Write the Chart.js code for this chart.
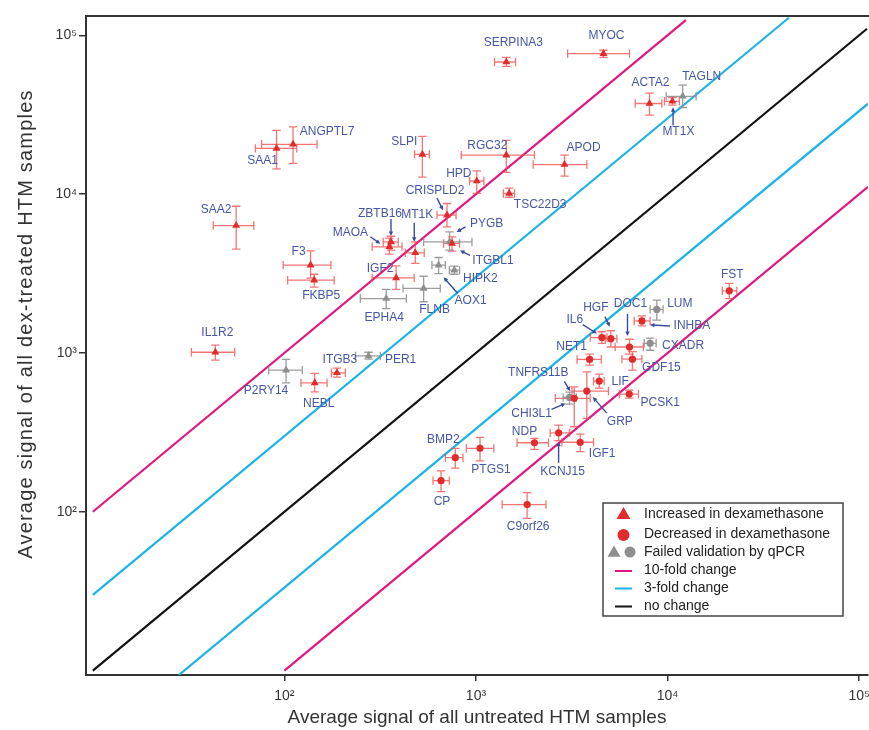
<!DOCTYPE html>
<html><head><meta charset="utf-8">
<script src="https://cdn.jsdelivr.net/npm/chart.js@4.4.1/dist/chart.umd.min.js"></script>
<style>html,body{margin:0;padding:0;background:#fff;}canvas{display:block;}</style>
</head><body>
<canvas id="c" width="869" height="730"></canvas>
<script>
// ---------- DATA ----------
const genes = ['SERPINA3','MYOC','ACTA2','MT1X','TAGLN','APOD','RGC32','SLPI','HPD','TSC22D3',
  'CRISPLD2','ANGPTL7','SAA1','SAA2','F3','FKBP5','MAOA','ZBTB16','MT1K','IGF2',
  'ITGBL1','PYGB','AOX1','HIPK2','FLNB','EPHA4','IL1R2','P2RY14','PER1','ITGB3','NEBL',
  'FST','LUM','INHBA','CXADR','IL6','HGF','DOC1','GDF15','NET1','LIF','GRP','TNFRS11B',
  'CHI3L1','NDP','KCNJ15','IGF1','PTGS1','BMP2','CP','C9orf26','PCSK1'];
const groups = ['up','up','up','up','failUp','up','up','up','up','up',
  'up','up','up','up','up','up','up','up','up','up',
  'up','failUp','failUp','failUp','failUp','failUp','up','failUp','failUp','up','up',
  'down','failDown','down','failDown','down','down','down','down','down','down','down','down',
  'failDown','down','down','down','down','down','down','down','down'];
// untreated (x) mean and error range
const xMean = [1440,4630,8050,10600,12000,2900,1440,525,1010,1490,
  706,111,91,56,137,143,353,360,482,383,
  750,728,638,771,533,340,43.6,102,275,188,144,
  21000,8790,7350,8110,4540,5060,6330,6560,3920,4400,3790,3260,
  3080,2020,2700,3500,1050,780,657,1850,6310];
const xLow = [1250,3010,6780,9640,9840,1990,838,478,926,1390,
  626,76,70.6,42.5,98.5,104,287,328,428,287,
  678,533,589,726,416,249,32.7,82.8,235,176,122,
  19300,8110,6700,7550,3950,4730,5330,5780,3370,4110,3170,2594,
  2850,1640,2440,2810,890,692,597,1370,5610];
const xHigh = [1610,6330,9340,11530,14100,3790,2020,571,1100,1590,
  787,148,116,69.2,175,182,411,393,537,476,
  821,953,692,821,651,433,55,124,317,208,167,
  23000,9480,8110,8720,4830,5440,7480,7350,4510,4670,4920,3946,
  3340,2390,3080,4110,1240,855,726,2320,7050];
// dex-treated (y) mean and error range
const yMean = [67900,76700,37200,38400,41300,15350,17600,17800,12100,10100,
  7370,20600,19400,6340,3570,2870,4660,5000,4270,2970,
  4890,5000,3570,3320,2550,2200,1010,780,959,750,648,
  2460,1880,1590,1150,1250,1230,1090,914,910,665,575,518,
  525,272,314,274,251,219,157,111,551];
const yLow = [63800,72700,31400,36300,35100,13000,13700,12800,10100,9560,
  6220,15600,14400,4500,2960,2600,4190,4440,3660,2510,
  4370,4440,3160,3130,2100,1900,901,648,914,704,569,
  2200,1610,1480,1040,1150,1090,982,780,838,601,387,343,
  476,247,280,239,209,188,134,90.8,520];
const yHigh = [72700,80500,43300,40600,48500,17600,21800,23100,14000,10900,
  8730,26500,25200,8390,4390,3130,5280,5430,5000,3530,
  5380,5780,3990,3520,3040,2510,1120,910,1010,802,743,
  2740,2150,1710,1240,1360,1380,1220,1020,982,736,760,612,
  566,290,351,308,294,251,181,132,583];
const tickValues = [100, 1000, 10000, 100000];
const tickLabels = ['10\u00B2', '10\u00B3', '10\u2074', '10\u2075'];
// reference lines y = factor * x
const foldNames = ['10-fold change', '3-fold change', 'no change', '3-fold change', '10-fold change'];
const foldFactors = [10, 3, 1, 1/3, 1/10];
const lineStartX = [10, 10, 10, 28.1, 100];
const lineEndX = [12460, 43000, 110000, 111300, 111300];
const legendTexts = ['Increased in dexamethasone', 'Decreased in dexamethasone', 'Failed validation by qPCR',
  '10-fold change', '3-fold change', 'no change'];

// ---------- LAYOUT / STYLE ----------
const FONT = '"Liberation Sans", Arial, Helvetica, sans-serif';
const RED = '#e22b2b', GRAY = '#8e8e8e';
const ERR_RED = 'rgba(238,72,72,0.75)', ERR_GRAY = 'rgba(140,140,140,0.85)';
const LINE_COLORS = ['#e2167e', '#1cb3e6', '#111111', '#1cb3e6', '#e2167e'];
const LABEL_COLOR = '#4656a6';
// label offsets from point pixel: [dx, dy, arrowFromDx, arrowFromDy, arrowToDx, arrowToDy]
const labelLayout = {
  SERPINA3:[7,-19], MYOC:[3,-18], ACTA2:[1,-21], TAGLN:[19,-20], MT1X:[6,30,0.7,24,0.7,6],
  APOD:[19,-17], RGC32:[-19,-9], SLPI:[-18,-13], HPD:[-18,-7], TSC22D3:[31,11],
  CRISPLD2:[-12,-24,-10,-17,-4,-5], ANGPTL7:[34,-13], SAA1:[-14,12], SAA2:[-20,-16],
  F3:[-12,-13], FKBP5:[7,15], MAOA:[-39,-14,-19,-10,-9,-3], ZBTB16:[-11,-28,0,-23,0,-6],
  MT1K:[2,-38,-1,-30,-1,-11], IGF2:[-16,-9], ITGBL1:[41,17,18,12,8,7], PYGB:[37,-18,16,-15,7,-10],
  AOX1:[32,36,19,28,5,12], HIPK2:[26,9], FLNB:[11,21], EPHA4:[-2,19], IL1R2:[2,-20],
  P2RY14:[-20,21], PER1:[32,4], ITGB3:[3,-13], NEBL:[4,21], FST:[3,-16], LUM:[23,-6],
  INHBA:[50,5,28,5,8,4], CXADR:[33,2], IL6:[-27,-18,-19,-13,-5,-4], HGF:[-15,-31,-6,-22,-1,-12],
  DOC1:[1,-43,-2,-33,-2,-11], GDF15:[29,9], NET1:[-18,-13], LIF:[21,1], PCSK1:[31,9],
  GRP:[33,31,20,22,6,6], TNFRS11B:[-36,-26,-10,-17,-4,-7], CHI3L1:[-38,16,-18,12,-4,6],
  NDP:[-10,-11], KCNJ15:[4,39,0,30,0,9], IGF1:[22,11], PTGS1:[11,21], BMP2:[-12,-18],
  CP:[1,21], C9orf26:[1,22]
};

function pointsFor(g) {
  const out = [];
  genes.forEach((n, i) => { if (groups[i] === g) out.push({x: xMean[i], y: yMean[i], gene: n}); });
  return out;
}

const pointSets = [
  {label: 'Increased in dexamethasone', data: pointsFor('up'), pointStyle: 'triangle', pointRadius: 4.6, backgroundColor: RED, borderColor: RED, borderWidth: 0, order: 1},
  {label: 'Decreased in dexamethasone', data: pointsFor('down'), pointStyle: 'circle', pointRadius: 3.6, backgroundColor: RED, borderColor: RED, borderWidth: 0, order: 1},
  {label: 'Failed (increased)', data: pointsFor('failUp'), pointStyle: 'triangle', pointRadius: 4.6, backgroundColor: GRAY, borderColor: GRAY, borderWidth: 0, order: 1},
  {label: 'Failed (decreased)', data: pointsFor('failDown'), pointStyle: 'circle', pointRadius: 3.6, backgroundColor: GRAY, borderColor: GRAY, borderWidth: 0, order: 1}
];
const lineSets = foldFactors.map((f, i) => ({
  label: foldNames[i],
  data: [{x: lineStartX[i], y: lineStartX[i] * f}, {x: lineEndX[i], y: lineEndX[i] * f}],
  showLine: true, pointRadius: 0, borderColor: LINE_COLORS[i], borderWidth: 2.2, fill: false, order: 2
}));

function drawArrow(ctx, x1, y1, x2, y2) {
  const a = Math.atan2(y2 - y1, x2 - x1), h = 5;
  ctx.beginPath(); ctx.moveTo(x1, y1); ctx.lineTo(x2 - Math.cos(a) * 2, y2 - Math.sin(a) * 2); ctx.stroke();
  ctx.beginPath();
  ctx.moveTo(x2, y2);
  ctx.lineTo(x2 - h * Math.cos(a - 0.45), y2 - h * Math.sin(a - 0.45));
  ctx.lineTo(x2 - h * Math.cos(a + 0.45), y2 - h * Math.sin(a + 0.45));
  ctx.closePath(); ctx.fill();
}

const errorBarPlugin = {
  id: 'errorBars',
  beforeDatasetsDraw(chart) { chart.$ebDone = false; },
  beforeDatasetDraw(chart, args) {
    const ds = chart.data.datasets[args.index];
    if (ds.showLine || chart.$ebDone) return;
    chart.$ebDone = true;
    const ctx = chart.ctx, xs = chart.scales.x, ys = chart.scales.y, ca = chart.chartArea;
    const cap = 4.2;
    ctx.save();
    ctx.beginPath(); ctx.rect(ca.left, ca.top, ca.right - ca.left, ca.bottom - ca.top); ctx.clip();
    ctx.lineWidth = 1.3;
    genes.forEach((n, i) => {
      const failed = groups[i].startsWith('fail');
      ctx.strokeStyle = failed ? ERR_GRAY : ERR_RED;
      const px = xs.getPixelForValue(xMean[i]), py = ys.getPixelForValue(yMean[i]);
      const x1 = xs.getPixelForValue(xLow[i]), x2 = xs.getPixelForValue(xHigh[i]);
      const y1 = ys.getPixelForValue(yLow[i]), y2 = ys.getPixelForValue(yHigh[i]);
      ctx.beginPath();
      ctx.moveTo(x1, py); ctx.lineTo(x2, py);
      ctx.moveTo(x1, py - cap); ctx.lineTo(x1, py + cap);
      ctx.moveTo(x2, py - cap); ctx.lineTo(x2, py + cap);
      ctx.moveTo(px, y1); ctx.lineTo(px, y2);
      ctx.moveTo(px - cap, y1); ctx.lineTo(px + cap, y1);
      ctx.moveTo(px - cap, y2); ctx.lineTo(px + cap, y2);
      ctx.stroke();
    });
    ctx.restore();
  }
};

const labelPlugin = {
  id: 'geneLabels',
  afterDatasetsDraw(chart) {
    const ctx = chart.ctx, xs = chart.scales.x, ys = chart.scales.y;
    ctx.save();
    ctx.font = '12px ' + FONT;
    ctx.textAlign = 'center'; ctx.textBaseline = 'middle';
    ctx.fillStyle = LABEL_COLOR; ctx.strokeStyle = '#3a4ba0'; ctx.lineWidth = 1.4;
    genes.forEach((n, i) => {
      const L = labelLayout[n]; if (!L) return;
      const px = xs.getPixelForValue(xMean[i]), py = ys.getPixelForValue(yMean[i]);
      if (L.length > 2) {
        ctx.fillStyle = '#3a4ba0';
        drawArrow(ctx, px + L[2], py + L[3], px + L[4], py + L[5]);
        ctx.fillStyle = LABEL_COLOR;
      }
      ctx.fillText(n, px + L[0], py + L[1]);
    });
    ctx.restore();
  }
};

const framePlugin = {
  id: 'frameAndTitles',
  afterDraw(chart) {
    const ctx = chart.ctx, ca = chart.chartArea;
    ctx.save();
    ctx.strokeStyle = '#333'; ctx.lineWidth = 2;
    ctx.beginPath();
    ctx.moveTo(ca.left, ca.top); ctx.lineTo(ca.right + 1, ca.top);
    ctx.stroke();
    // y axis title
    ctx.translate(26, 324); ctx.rotate(-Math.PI / 2);
    ctx.font = '20px ' + FONT; ctx.fillStyle = '#333';
    ctx.textAlign = 'center'; ctx.textBaseline = 'middle';
    try { ctx.letterSpacing = '1.2px'; } catch (e) {}
    ctx.fillText('Average signal of all dex-treated HTM samples', 0, 0);
    ctx.restore();

    // legend
    ctx.save();
    const bx = 603, by = 503, bw = 240, bh = 113;
    ctx.strokeStyle = '#444'; ctx.lineWidth = 1.5;
    ctx.strokeRect(bx, by, bw, bh);
    const rows = [514, 534, 552, 570.5, 588, 606];
    ctx.font = '14px ' + FONT; ctx.fillStyle = '#222';
    ctx.textAlign = 'left'; ctx.textBaseline = 'middle';
    legendTexts.forEach((t, i) => ctx.fillText(t, 644, rows[i]));
    const tri = (x, y, r, c) => {
      ctx.fillStyle = c; ctx.beginPath();
      ctx.moveTo(x, y - r); ctx.lineTo(x + r * 0.866, y + r * 0.5); ctx.lineTo(x - r * 0.866, y + r * 0.5);
      ctx.closePath(); ctx.fill();
    };
    const dot = (x, y, r, c) => { ctx.fillStyle = c; ctx.beginPath(); ctx.arc(x, y, r, 0, Math.PI * 2); ctx.fill(); };
    tri(623.5, rows[0] + 1, 8, RED);
    dot(623.5, rows[1] + 1, 6, RED);
    tri(614, rows[2] + 1, 7.5, GRAY);
    dot(630, rows[2], 5.5, GRAY);
    const lc = ['#e2167e', '#1cb3e6', '#111111'];
    lc.forEach((c, k) => {
      ctx.strokeStyle = c; ctx.lineWidth = 2;
      ctx.beginPath(); ctx.moveTo(615, rows[3 + k] + 0.5); ctx.lineTo(632, rows[3 + k] + 0.5); ctx.stroke();
    });
    ctx.restore();
  }
};

const tickCb = (v) => { const k = tickValues.indexOf(v); return k >= 0 ? tickLabels[k] : ''; };
const setTicks = (s) => { s.ticks = tickValues.map(v => ({value: v})); };

new Chart(document.getElementById('c'), {
  type: 'scatter',
  data: {datasets: [...pointSets, ...lineSets]},
  options: {
    responsive: false, animation: false, events: [],
    layout: {autoPadding: false, padding: {top: 16, right: 1, left: 0, bottom: 0}},
    plugins: {legend: {display: false}, tooltip: {enabled: false}},
    scales: {
      x: {
        type: 'logarithmic', position: 'bottom', min: 9.21, max: 111300,
        afterBuildTicks: setTicks,
        afterFit: (s) => { s.height = 55; s.paddingRight = 0; s.paddingLeft = 0; },
        ticks: {callback: tickCb, font: {size: 14, family: FONT}, color: '#333', padding: 7, maxRotation: 0, autoSkip: false},
        grid: {display: true, drawOnChartArea: false, drawTicks: true, tickLength: 6, color: '#333', lineWidth: 1.5},
        border: {display: true, color: '#333', width: 2},
        title: {display: true, text: 'Average signal of all untreated HTM samples', font: {size: 19, family: FONT}, color: '#333', padding: {top: 0, bottom: 1}}
      },
      y: {
        type: 'logarithmic', position: 'left', min: 9.38, max: 132300,
        afterBuildTicks: setTicks,
        afterFit: (s) => { s.width = 86; s.paddingTop = 0; s.paddingBottom = 0; },
        ticks: {callback: tickCb, font: {size: 14, family: FONT}, color: '#333', padding: 2, autoSkip: false},
        grid: {display: true, drawOnChartArea: false, drawTicks: true, tickLength: 7, color: '#333', lineWidth: 1.5},
        border: {display: true, color: '#333', width: 2}
      }
    }
  },
  plugins: [errorBarPlugin, labelPlugin, framePlugin]
});
</script>
</body></html>
